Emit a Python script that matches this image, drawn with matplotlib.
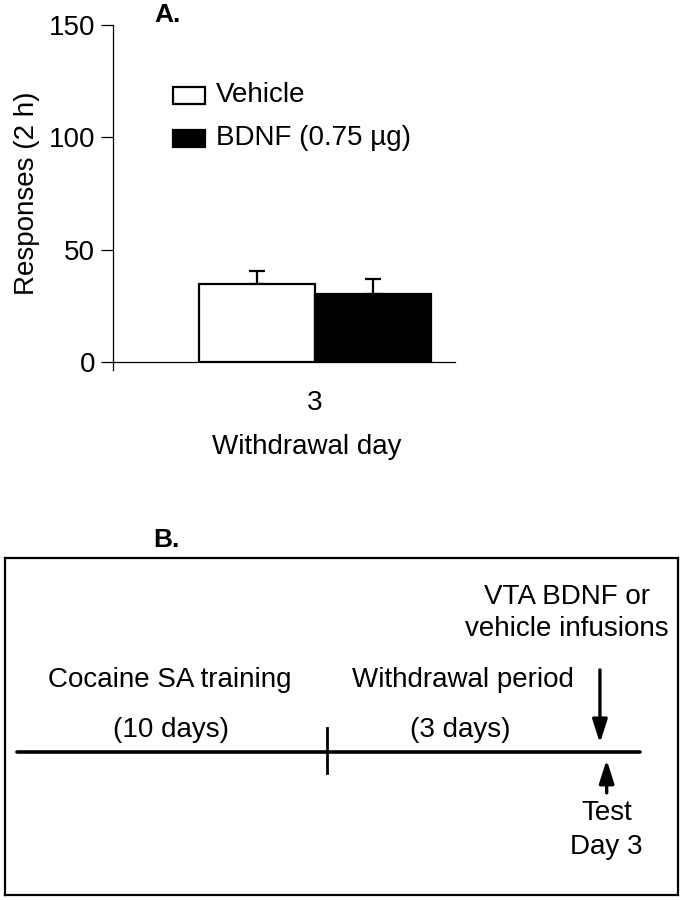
import matplotlib
matplotlib.use("Agg")
import matplotlib.pyplot as plt
from matplotlib.patches import Rectangle

plt.rcParams['font.family'] = ['Liberation Sans', 'DejaVu Sans']

# data, panel A
groups = ['Vehicle', 'BDNF (0.75 \u00b5g)']
means = [34.7, 30.3]
sems = [5.8, 6.6]
colors = ['white', 'black']
day_label = '3'
yticks = [0, 50, 100, 150]

# texts, panel B
phase_names = ['Cocaine SA training', 'Withdrawal period']
phase_lengths = ['(10 days)', '(3 days)']
infusion_text = ['VTA BDNF or', 'vehicle infusions']
test_text = ['Test', 'Day 3']

FS = 20
W, H = 686, 900
fig = plt.figure(figsize=(W / 100, H / 100), dpi=100)

# ---- panel A ----
ax = fig.add_axes([113 / W, 1 - 362 / H, 342 / W, 337 / H])
bw = 116 / 342
xs = [-bw / 2, bw / 2]
ax.bar(xs, means, width=bw, color=colors, edgecolor='black', linewidth=1.6, zorder=2)
for x, m, s in zip(xs, means, sems):
    ax.errorbar(x, m + s / 2, yerr=[[s / 2], [s / 2]], fmt='none', ecolor='black',
                elinewidth=1.6, capsize=6, capthick=1.6, zorder=1)
ax.set_xlim(-0.59, 0.41)
ax.set_ylim(0, 150)
ax.set_yticks(yticks)
ax.set_xticks([0])
ax.set_xticklabels([day_label])
ax.spines['top'].set_visible(False)
ax.spines['right'].set_visible(False)
ax.spines['left'].set_linewidth(0.9)
ax.spines['bottom'].set_linewidth(0.9)
ax.spines['left'].set_bounds(-3.5, 150)
ax.tick_params(axis='y', direction='out', length=9, width=0.9, labelsize=FS, pad=4)
ax.tick_params(axis='x', length=0, labelsize=FS, pad=20)
ax.set_ylabel('Responses (2 h)', fontsize=FS, labelpad=6)
ax.set_xlabel('Withdrawal day', fontsize=FS)
ax.xaxis.set_label_coords(0.567, -0.215)

# legend drawn by hand
for i, (g, c) in enumerate(zip(groups, colors)):
    ytop = 87 + i * 43
    fig.patches.append(Rectangle((173 / W, 1 - (ytop + 17) / H), 32 / W, 17 / H,
                                 transform=fig.transFigure, facecolor=c,
                                 edgecolor='black', linewidth=1.6))
    fig.text(216 / W, 1 - (ytop + 8) / H, g, fontsize=FS, va='center', ha='left')

fig.text(154 / W, 1 - 15 / H, 'A.', fontsize=19, fontweight='bold', va='center', ha='left')

# ---- panel B ----
fig.text(153 / W, 1 - 540 / H, 'B.', fontsize=19, fontweight='bold', va='center', ha='left')
bx = fig.add_axes([5 / W, 5 / H, 673 / W, 337 / H])
bx.set_xlim(0, 1)
bx.set_ylim(0, 1)
bx.set_xticks([])
bx.set_yticks([])
for sp in bx.spines.values():
    sp.set_linewidth(1.6)

bx.plot([0.018, 0.944], [0.424, 0.424], color='black', lw=2.6, solid_capstyle='round')
bx.plot([0.478, 0.478], [0.362, 0.496], color='black', lw=2.0)
bx.annotate('', xy=(0.884, 0.451), xytext=(0.884, 0.668),
            arrowprops=dict(arrowstyle='-|>,head_width=0.45,head_length=1.4',
                            color='black', lw=2.4, shrinkA=0, shrinkB=0))
bx.annotate('', xy=(0.894, 0.401), xytext=(0.894, 0.303),
            arrowprops=dict(arrowstyle='-|>,head_width=0.45,head_length=1.4',
                            color='black', lw=2.4, shrinkA=0, shrinkB=0))

for t, x in zip(phase_names, [0.245, 0.681]):
    bx.text(x, 0.638, t, fontsize=FS, ha='center', va='center')
for t, x in zip(phase_lengths, [0.247, 0.676]):
    bx.text(x, 0.490, t, fontsize=FS, ha='center', va='center')
for t, y in zip(infusion_text, [0.884, 0.789]):
    bx.text(0.835, y, t, fontsize=FS, ha='center', va='center')
for t, y in zip(test_text, [0.243, 0.142]):
    bx.text(0.894, y, t, fontsize=FS, ha='center', va='center')

fig.savefig('out.png', dpi=100, facecolor='white')
